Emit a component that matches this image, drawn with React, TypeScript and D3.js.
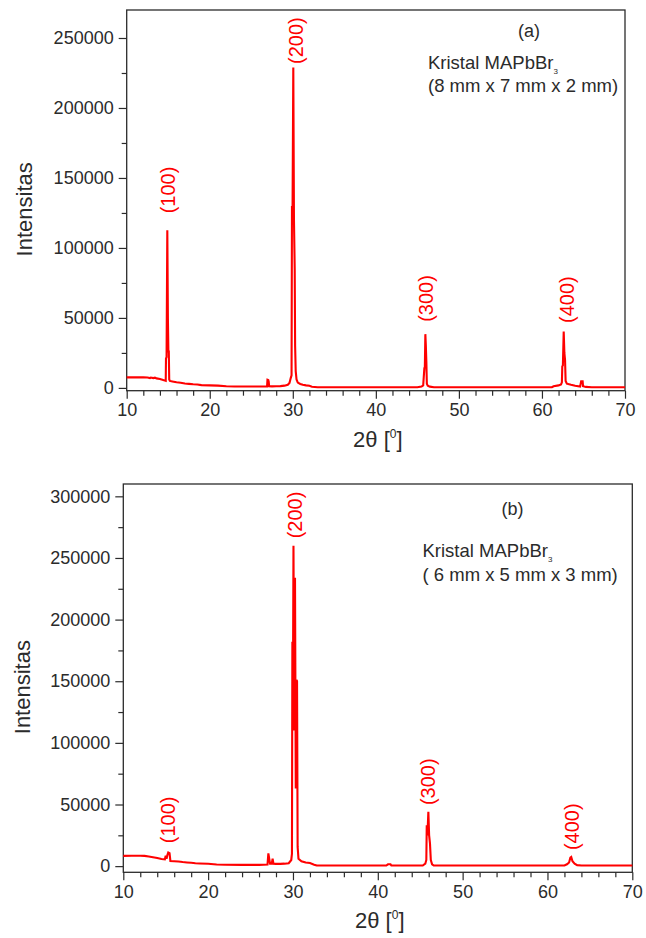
import React, { useEffect, useRef } from 'react';
import * as d3 from 'd3';

const WIDTH = 646;
const HEIGHT = 938;
const FONT = '"Liberation Sans", Arial, sans-serif';
const RED = '#ff0000';
const INK = '#2b2b2b';

// 2theta (deg), intensity (counts), panel (a)
const patternA: [number, number][] = [
  [10, 7500], [11, 7500], [12, 7500], [12.5, 7400], [12.8, 7000], [12.9, 7400], [13.2, 7000],
  [13.4, 7300], [13.6, 6800], [14.0, 6300], [14.3, 5800], [14.6, 5200], [14.7, 5000],
  [14.73, 21000], [14.8, 22000], [14.89, 112600], [14.96, 50000], [15.02, 26000], [15.07, 26000],
  [15.12, 6000], [15.2, 5000], [15.5, 4600], [16.0, 4000], [16.5, 3700], [17.0, 3200],
  [17.5, 2900], [18.0, 2600], [18.5, 2400], [19.0, 2000], [20, 1800], [21, 1600], [22, 1200],
  [23, 1000], [24, 1000], [25, 1000], [26, 1000], [26.9, 1000], [26.95, 5800], [27.05, 5600],
  [27.1, 4500], [27.15, 1200], [27.5, 1100], [28, 1200], [28.5, 1300], [29.0, 1600],
  [29.4, 2200], [29.6, 3500], [29.75, 7000], [29.85, 9000], [29.9, 130000], [29.97, 128000],
  [30.06, 229000], [30.14, 120000], [30.23, 85000], [30.28, 30000], [30.35, 12000],
  [30.45, 6000], [30.6, 3800], [30.9, 2800], [31.2, 2200], [31.6, 1800], [32.0, 1500],
  [32.3, 800], [33, 500], [35, 500], [40, 500], [45, 500], [45.5, 1000], [45.7, 1800],
  [45.84, 14000], [45.9, 15000], [45.96, 38400], [46.02, 30000], [46.08, 19000], [46.14, 3000],
  [46.25, 1500], [46.5, 900], [47, 500], [50, 500], [55, 500], [60, 500], [61.2, 500],
  [61.4, 1200], [62.0, 1800], [62.3, 2500], [62.4, 4000], [62.45, 15400], [62.52, 16000],
  [62.62, 40300], [62.7, 25000], [62.78, 20100], [62.85, 5000], [63.0, 3000], [63.5, 2200],
  [64.0, 1500], [64.6, 1000], [64.72, 4700], [64.9, 4700], [64.95, 1200], [65.3, 700],
  [66, 500], [70, 500],
];

// panel (b)
const patternB: [number, number][] = [
  [10, 8300], [11, 8400], [12, 8400], [12.5, 8300], [13, 7800], [13.5, 7200], [14, 6600],
  [14.5, 5800], [14.9, 5500], [15.0, 8500], [15.1, 6000], [15.2, 9000], [15.3, 11100],
  [15.45, 10500], [15.55, 4200], [16, 4000], [16.5, 3700], [17, 3300], [17.5, 3000],
  [18, 2700], [18.5, 2400], [19, 2200], [20, 1900], [21, 1300], [22, 1100], [24, 1000],
  [26, 1000], [27.0, 1300], [27.1, 10300], [27.2, 6000], [27.3, 2000], [27.5, 2000],
  [27.6, 6000], [27.7, 2000], [28, 1800], [28.5, 1800], [29, 2000], [29.5, 2400], [29.8, 5000],
  [29.88, 10000], [29.93, 182000], [29.98, 110000], [30.06, 260000], [30.15, 110000],
  [30.24, 234000], [30.33, 63000], [30.42, 151000], [30.48, 150000], [30.55, 15600],
  [30.65, 6000], [31.0, 4000], [31.5, 3000], [32, 2500], [32.5, 1200], [32.8, 500], [35, 500],
  [41.0, 500], [41.2, 1500], [41.5, 1500], [41.6, 500], [45.3, 500], [45.6, 2000],
  [45.72, 5000], [45.77, 33200], [45.85, 25000], [45.96, 44000], [46.05, 25000],
  [46.15, 18400], [46.25, 5000], [46.4, 1500], [46.6, 500], [62.0, 500], [62.3, 1500],
  [62.55, 3000], [62.7, 7000], [62.8, 7500], [62.95, 4000], [63.2, 2000], [63.5, 800],
  [64, 500], [70, 500],
];

// peak labels: hkl, 2theta, intensity where the label starts
const peaksA = [
  { hkl: '(100)', twoTheta: 14.97, at: 124700 },
  { hkl: '(200)', twoTheta: 30.4, at: 231400 },
  { hkl: '(300)', twoTheta: 46.05, at: 47200 },
  { hkl: '(400)', twoTheta: 62.98, at: 46400 },
];
const peaksB = [
  { hkl: '(100)', twoTheta: 15.27, at: 18600 },
  { hkl: '(200)', twoTheta: 30.24, at: 265900 },
  { hkl: '(300)', twoTheta: 45.92, at: 49500 },
  { hkl: '(400)', twoTheta: 62.86, at: 13000 },
];

const xTicks = [10, 20, 30, 40, 50, 60, 70];
const xMinor = d3.range(12, 70, 2).filter(v => v % 10 !== 0);
const yTicksA = [0, 50000, 100000, 150000, 200000, 250000];
const yTicksB = [0, 50000, 100000, 150000, 200000, 250000, 300000];

function Panel({ pattern, peaks, yTicks, yDomain, box, tag, size, tagPos, notePos, yTitleX }) {
  const ref = useRef(null);

  useEffect(() => {
    const g = d3.select(ref.current);
    g.selectAll('*').remove();

    const x = d3.scaleLinear().domain([10, 70]).range([box.left, box.right]);
    const y = d3.scaleLinear().domain(yDomain).range([box.bottom, box.top]);
    const yMinor = d3.range(25000, yDomain[1], 50000);

    // frame
    g.append('rect')
      .attr('x', box.left).attr('y', box.top)
      .attr('width', box.right - box.left).attr('height', box.bottom - box.top)
      .attr('fill', 'none').attr('stroke', INK).attr('stroke-width', 1.3);

    const styleAxis = (sel) => {
      sel.select('.domain').remove();
      sel.selectAll('line').attr('stroke', INK).attr('stroke-width', 1.2);
      sel.selectAll('text').attr('fill', INK).style('font-family', FONT).style('font-size', '18px');
    };

    g.append('g').attr('transform', `translate(0,${box.bottom})`)
      .call(d3.axisBottom(x).tickValues(xTicks).tickSize(8).tickPadding(5).tickFormat(d3.format('d')))
      .call(styleAxis);
    g.append('g').attr('transform', `translate(0,${box.bottom})`)
      .call(d3.axisBottom(x).tickValues(xMinor).tickSize(5).tickFormat(() => ''))
      .call(styleAxis);
    g.append('g').attr('transform', `translate(${box.left},0)`)
      .call(d3.axisLeft(y).tickValues(yTicks).tickSize(8).tickPadding(5).tickFormat(d3.format('d')))
      .call(styleAxis);
    g.append('g').attr('transform', `translate(${box.left},0)`)
      .call(d3.axisLeft(y).tickValues(yMinor).tickSize(5).tickFormat(() => ''))
      .call(styleAxis);

    const line = d3.line().x(d => x(d[0])).y(d => y(d[1]));
    g.append('path')
      .datum(pattern)
      .attr('d', line)
      .attr('fill', 'none')
      .attr('stroke', RED)
      .attr('stroke-width', 2.1)
      .attr('stroke-linejoin', 'miter');

    g.selectAll('.peak')
      .data(peaks)
      .enter().append('text')
      .attr('transform', d => `translate(${x(d.twoTheta)},${y(d.at)}) rotate(-90)`)
      .attr('dy', '0.35em')
      .attr('fill', RED)
      .style('font-family', FONT)
      .style('font-size', '20px')
      .text(d => d.hkl);

    // axis titles
    const cx = (box.left + box.right) / 2;
    const xt = g.append('text')
      .attr('x', cx + 2).attr('y', box.bottom + 56)
      .attr('text-anchor', 'middle')
      .attr('fill', INK)
      .style('font-family', FONT).style('font-size', '22px');
    xt.append('tspan').text('2θ [');
    xt.append('tspan').attr('dy', -9).style('font-size', '12px').text('0');
    xt.append('tspan').attr('dy', 9).text(']');

    g.append('text')
      .attr('transform', `translate(${yTitleX},${(box.top + box.bottom) / 2 + 9}) rotate(-90)`)
      .attr('dy', '0.35em')
      .attr('text-anchor', 'middle')
      .attr('fill', INK)
      .style('font-family', FONT).style('font-size', '22px')
      .text('Intensitas');

    // notes
    g.append('text')
      .attr('x', tagPos[0]).attr('y', tagPos[1])
      .attr('text-anchor', 'middle')
      .attr('fill', INK)
      .style('font-family', FONT).style('font-size', '18px')
      .text(tag);
    const k = g.append('text')
      .attr('x', notePos[0]).attr('y', notePos[1])
      .attr('fill', INK)
      .style('font-family', FONT).style('font-size', '18.5px');
    k.append('tspan').text('Kristal MAPbBr');
    k.append('tspan').attr('dy', 5).style('font-size', '8px').text('3');
    g.append('text')
      .attr('x', notePos[0]).attr('y', notePos[1] + 23.5)
      .attr('fill', INK)
      .style('font-family', FONT).style('font-size', '18.5px')
      .style('white-space', 'pre')
      .text(size);
  }, []);

  return <g ref={ref} />;
}

export default function App() {
  return (
    <svg
      width={WIDTH}
      height={HEIGHT}
      style={{ position: 'absolute', left: 0, top: 0, background: '#fff' }}
      xmlns="http://www.w3.org/2000/svg">
      <Panel
        pattern={patternA}
        peaks={peaksA}
        yTicks={yTicksA}
        yDomain={[-2000, 270000]}
        box={{ left: 126.7, top: 10, right: 625, bottom: 390.7 }}
        tag="(a)"
        size="(8 mm x 7 mm x 2 mm)"
        tagPos={[529, 37]}
        notePos={[428, 68.5]}
        yTitleX={24}
      />
      <Panel
        pattern={patternB}
        peaks={peaksB}
        yTicks={yTicksB}
        yDomain={[-5000, 310000]}
        box={{ left: 123.3, top: 484, right: 632.3, bottom: 872.3 }}
        tag="(b)"
        size="( 6 mm x 5 mm x 3 mm)"
        tagPos={[512.5, 515]}
        notePos={[422.5, 557]}
        yTitleX={22}
      />
    </svg>
  );
}
